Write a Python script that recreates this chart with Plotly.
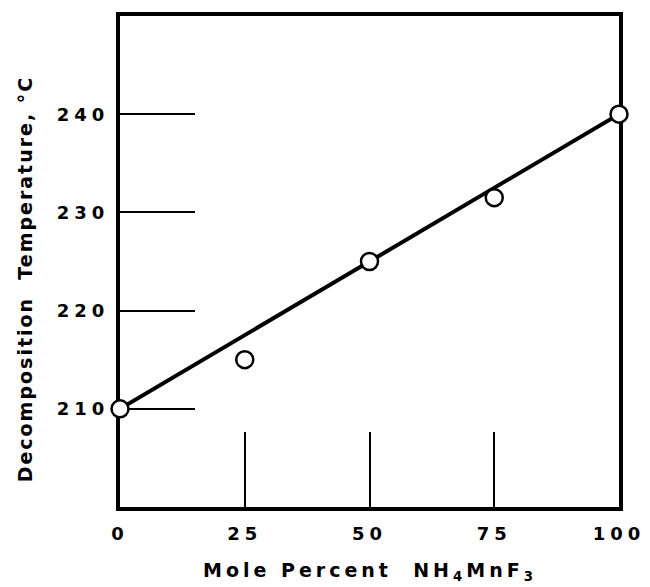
import plotly.graph_objects as go

# Data
mole_percent = [0, 25, 50, 75, 100]
decomp_temp = [210, 215, 225, 231.5, 240]
fit_x = [0, 100]
fit_y = [210, 240]
x_ticks = [0, 25, 50, 75, 100]
y_ticks = [210, 220, 230, 240]

FONT = "DejaVu Sans"
W, H = 650, 587
ML, MR, MT, MB = 120, 26, 13, 80

fig = go.Figure()
fig.add_trace(go.Scatter(
    x=fit_x, y=fit_y, mode="lines",
    line=dict(color="black", width=4),
    showlegend=False, hoverinfo="skip", cliponaxis=False,
))
fig.add_trace(go.Scatter(
    x=mole_percent, y=decomp_temp, mode="markers",
    marker=dict(symbol="circle", size=17, color="white",
                line=dict(color="black", width=2.5)),
    showlegend=False, cliponaxis=False,
))

axis_common = dict(
    showgrid=False, zeroline=False,
    showline=True, linecolor="black", linewidth=4, mirror=True,
    ticks="inside", ticklen=75, tickwidth=2, tickcolor="black",
    tickfont=dict(family=FONT, size=18, color="black", weight="bold"),
    layer="below traces",
)

fig.update_xaxes(range=[0, 100], tickvals=x_ticks,
                 ticktext=[str(v) for v in x_ticks],
                 ticklabelstandoff=7, **axis_common)
fig.update_yaxes(range=[200, 250], tickvals=y_ticks,
                 ticktext=[str(v) for v in y_ticks],
                 ticklabelstandoff=3, **axis_common)

pw = W - ML - MR
ph = H - MT - MB


def px_to_paper(x, y_from_top):
    return (x - ML) / pw, ((H - y_from_top) - MB) / ph


xt_x, xt_y = px_to_paper(372, 572)
yt_x, yt_y = px_to_paper(24, 277)

fig.update_layout(
    width=W, height=H,
    margin=dict(l=ML, r=MR, t=MT, b=MB),
    paper_bgcolor="white", plot_bgcolor="white",
    hovermode=False,
    annotations=[
        dict(text="Mole Percent  NH<sub>4</sub>MnF<sub>3</sub>",
             x=xt_x, y=xt_y, xref="paper", yref="paper",
             xanchor="center", yanchor="middle",
             showarrow=False,
             font=dict(family=FONT, size=19, color="black", weight="bold")),
        dict(text="Decomposition  Temperature, °C",
             x=yt_x, y=yt_y, xref="paper", yref="paper",
             xanchor="center", yanchor="middle",
             showarrow=False, textangle=-90,
             font=dict(family=FONT, size=19, color="black", weight="bold")),
    ],
)

post = """
document.body.style.margin = '0';
var gd = document.getElementById('{plot_id}');
function spacing() {
  gd.querySelectorAll('.xtick text, .ytick text').forEach(function (t) {
    t.style.letterSpacing = '5px';
  });
  var anns = gd.querySelectorAll('.annotation-text');
  anns.forEach(function (t) {
    var isY = t.textContent.indexOf('Decomposition') >= 0;
    t.style.letterSpacing = isY ? '2px' : '4px';
  });
}
spacing();
gd.on('plotly_afterplot', spacing);
"""

fig.write_html("out.html", post_script=post,
               config={"displayModeBar": False, "staticPlot": True})
